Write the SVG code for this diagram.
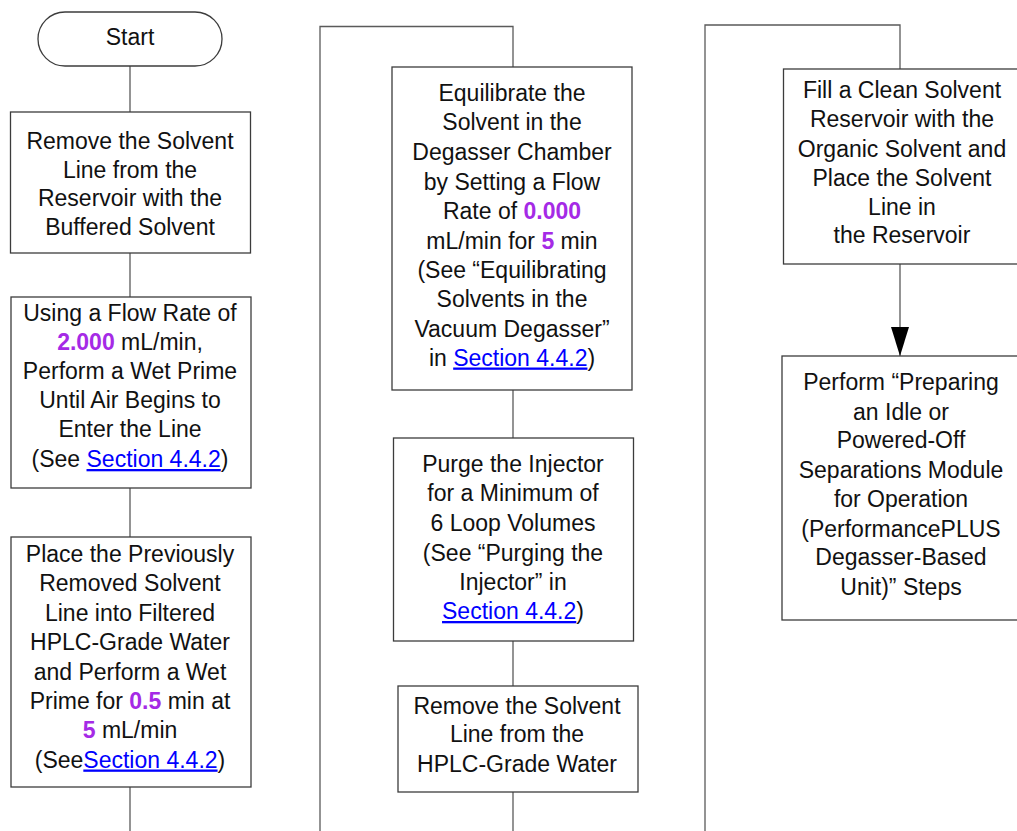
<svg xmlns="http://www.w3.org/2000/svg" width="1017" height="831" viewBox="0 0 1017 831">
  <style>
    .box { fill: #ffffff; stroke: #3c3c3c; stroke-width: 1.3; }
    .wire { fill: none; stroke: #5a5a5a; stroke-width: 1.3; }
    .t { font-family: "Liberation Sans", Arial, sans-serif; font-size: 23px; fill: #111111; text-anchor: middle; }
    .num { fill: #a52ae6; font-weight: bold; }
    .link { fill: #0000ff; text-decoration: underline; }
  </style>
  <defs>
    <marker id="arrow" markerWidth="29" markerHeight="18" refX="29" refY="9" orient="auto" markerUnits="userSpaceOnUse" viewBox="0 0 29 18">
      <path d="M0,0 L29,9 L0,18 Z" fill="#000000"/>
    </marker>
  </defs>
  <rect width="1017" height="831" fill="#ffffff"/>

  <!-- connectors -->
  <g id="connectors">
    <line class="wire" x1="130" y1="66" x2="130" y2="112"/>
    <line class="wire" x1="130" y1="253" x2="130" y2="297"/>
    <line class="wire" x1="130" y1="488" x2="130" y2="537"/>
    <line class="wire" x1="130" y1="787" x2="130" y2="831"/>
    <polyline class="wire" points="320,831 320,26.5 513,26.5 513,67"/>
    <line class="wire" x1="513" y1="390" x2="513" y2="438"/>
    <line class="wire" x1="513" y1="641" x2="513" y2="686"/>
    <line class="wire" x1="513" y1="792" x2="513" y2="831"/>
    <polyline class="wire" points="705,831 705,25 900,25 900,69"/>
    <line class="wire" x1="900" y1="264" x2="900" y2="356" marker-end="url(#arrow)"/>
  </g>

  <g id="start">
    <rect class="box" x="38" y="12" width="184" height="54" rx="27" ry="27"/>
    <text class="t" x="130" y="45">Start</text>
  </g>

  <g id="remove-buffered">
    <rect class="box" x="10.5" y="112" width="240" height="141"/>
    <text class="t" x="130" y="149">Remove the Solvent</text>
    <text class="t" x="130" y="177.5">Line from the</text>
    <text class="t" x="130" y="206">Reservoir with the</text>
    <text class="t" x="130" y="234.5">Buffered Solvent</text>
  </g>

  <g id="wet-prime-air">
    <rect class="box" x="11" y="297" width="240" height="191"/>
    <text class="t" x="130" y="321">Using a Flow Rate of</text>
    <text class="t" x="130" y="350"><tspan class="num">2.000</tspan> mL/min,</text>
    <text class="t" x="130" y="379">Perform a Wet Prime</text>
    <text class="t" x="130" y="408">Until Air Begins to</text>
    <text class="t" x="130" y="437">Enter the Line</text>
    <text class="t" x="130" y="467">(See <tspan class="link">Section 4.4.2</tspan>)</text>
  </g>

  <g id="wet-prime-water">
    <rect class="box" x="11" y="537" width="240" height="250"/>
    <text class="t" x="130" y="562">Place the Previously</text>
    <text class="t" x="130" y="591">Removed Solvent</text>
    <text class="t" x="130" y="620.5">Line into Filtered</text>
    <text class="t" x="130" y="650">HPLC-Grade Water</text>
    <text class="t" x="130" y="679.5">and Perform a Wet</text>
    <text class="t" x="130" y="708.5">Prime for <tspan class="num">0.5</tspan> min at</text>
    <text class="t" x="130" y="738"><tspan class="num">5</tspan> mL/min</text>
    <text class="t" x="130" y="767.5">(See<tspan class="link">Section 4.4.2</tspan>)</text>
  </g>

  <g id="equilibrate">
    <rect class="box" x="392" y="67" width="240" height="323"/>
    <text class="t" x="512" y="101">Equilibrate the</text>
    <text class="t" x="512" y="130">Solvent in the</text>
    <text class="t" x="512" y="160">Degasser Chamber</text>
    <text class="t" x="512" y="190">by Setting a Flow</text>
    <text class="t" x="512" y="219">Rate of <tspan class="num">0.000</tspan></text>
    <text class="t" x="512" y="248.5">mL/min for <tspan class="num">5</tspan> min</text>
    <text class="t" x="512" y="278">(See “Equilibrating</text>
    <text class="t" x="512" y="307">Solvents in the</text>
    <text class="t" x="512" y="336.5">Vacuum Degasser”</text>
    <text class="t" x="512" y="365.5">in <tspan class="link">Section 4.4.2</tspan>)</text>
  </g>

  <g id="purge-injector">
    <rect class="box" x="393.5" y="438" width="240" height="203"/>
    <text class="t" x="513" y="471.5">Purge the Injector</text>
    <text class="t" x="513" y="501">for a Minimum of</text>
    <text class="t" x="513" y="530.5">6 Loop Volumes</text>
    <text class="t" x="513" y="560.5">(See “Purging the</text>
    <text class="t" x="513" y="589.5">Injector” in</text>
    <text class="t" x="513" y="619"><tspan class="link">Section 4.4.2</tspan>)</text>
  </g>

  <g id="remove-water">
    <rect class="box" x="398" y="686" width="240" height="106"/>
    <text class="t" x="517" y="713.5">Remove the Solvent</text>
    <text class="t" x="517" y="742">Line from the</text>
    <text class="t" x="517" y="771.5">HPLC-Grade Water</text>
  </g>

  <g id="fill-reservoir">
    <rect class="box" x="783.5" y="69" width="240" height="195"/>
    <text class="t" x="902" y="98">Fill a Clean Solvent</text>
    <text class="t" x="902" y="127">Reservoir with the</text>
    <text class="t" x="902" y="156.5">Organic Solvent and</text>
    <text class="t" x="902" y="186">Place the Solvent</text>
    <text class="t" x="902" y="214.5">Line in</text>
    <text class="t" x="902" y="243">the Reservoir</text>
  </g>

  <g id="prepare-module">
    <rect class="box" x="782" y="356" width="240" height="264"/>
    <text class="t" x="901" y="390">Perform “Preparing</text>
    <text class="t" x="901" y="419.5">an Idle or</text>
    <text class="t" x="901" y="448">Powered-Off</text>
    <text class="t" x="901" y="478">Separations Module</text>
    <text class="t" x="901" y="507">for Operation</text>
    <text class="t" x="901" y="536.5">(PerformancePLUS</text>
    <text class="t" x="901" y="565">Degasser-Based</text>
    <text class="t" x="901" y="595">Unit)” Steps</text>
  </g>
</svg>
